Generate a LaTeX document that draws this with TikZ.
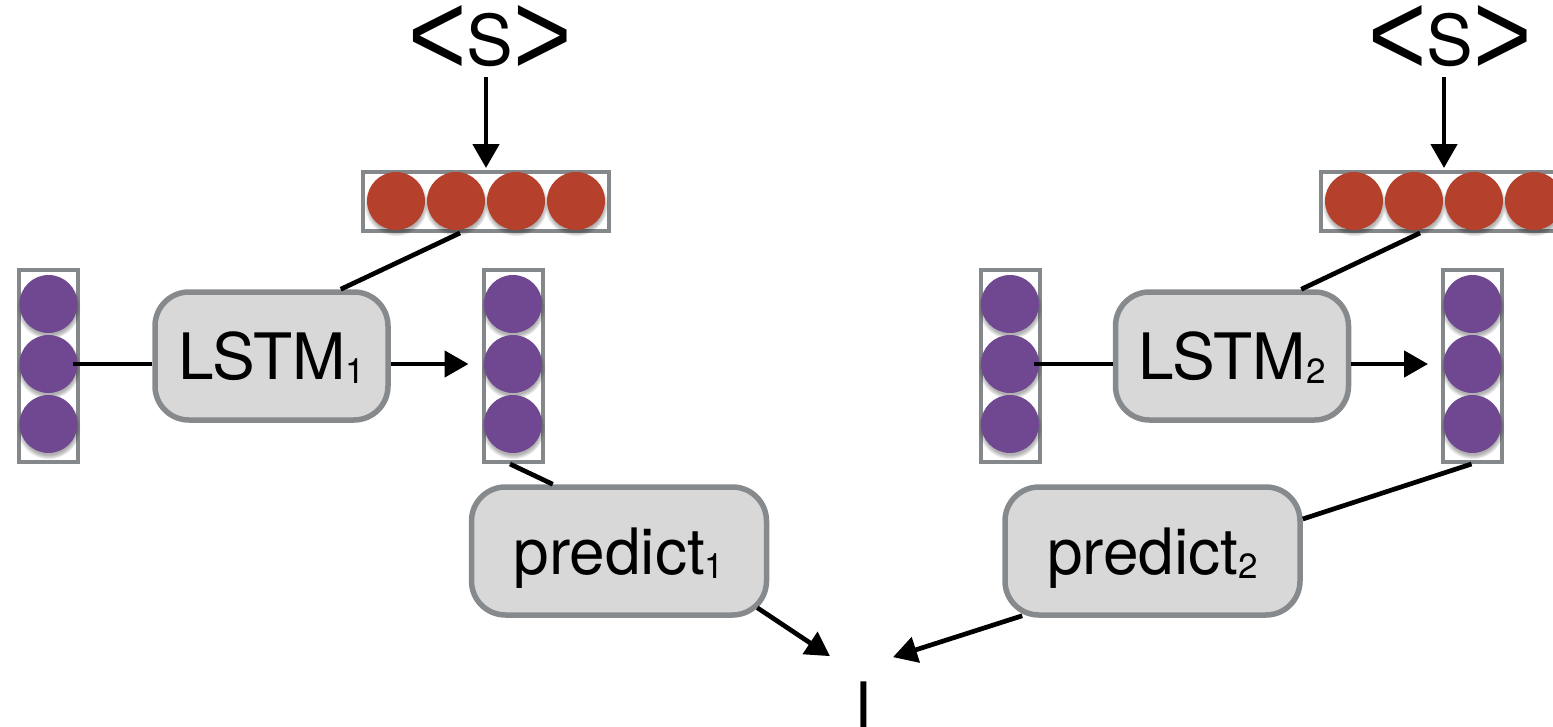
\documentclass[tikz,border=0pt]{standalone}
\usepackage{fontspec}
\setmainfont{TeX Gyre Heros}
\newfontfamily\arialfont{Liberation Sans}
\usetikzlibrary{arrows.meta,shadows}
\definecolor{cred}{RGB}{181,64,44}
\definecolor{cpurple}{RGB}{111,72,145}
\definecolor{bargray}{RGB}{133,136,139}
\definecolor{boxgray}{RGB}{135,138,141}
\definecolor{boxfill}{RGB}{216,216,216}
\newcommand\subn[1]{\raisebox{-4pt}{\fontsize{35}{35}\selectfont #1}}
\newcommand\bigfont{\fontsize{64}{64}\selectfont}
\newcommand\angfont{\arialfont\fontsize{100}{100}\selectfont}
\newcommand\stoken{\raisebox{-10pt}{\scalebox{1}[1.2]{\angfont<}}{\fontsize{70}{70}\selectfont S}\raisebox{-10pt}{\scalebox{1}[1.2]{\angfont>}}}
\begin{document}
\begin{tikzpicture}[x=1pt,y=-1pt,
  hbar/.style={draw=bargray,line width=4pt,fill=white,inner sep=0pt,minimum width=246pt,minimum height=59pt},
  vbar/.style={draw=bargray,line width=4pt,fill=white,inner sep=0pt,minimum width=59pt,minimum height=192pt},
  dot/.style={circle,inner sep=0pt,minimum size=58pt,circular drop shadow={shadow xshift=0pt,shadow yshift=-3pt,opacity=0.3,fill=black}},
  rdot/.style={dot,fill=cred},
  pdot/.style={dot,fill=cpurple},
  box/.style={draw=boxgray,line width=5.5pt,fill=boxfill,rounded corners=34pt,inner sep=0pt,
    minimum height=128pt,text height=46pt,text depth=0pt,font=\bigfont},
  lbox/.style={box,minimum width=233pt},
  pbox/.style={box,minimum width=295pt},
  conn/.style={line width=4.7pt},
  arr/.style={conn,-{Triangle[length=24pt,width=26pt]}},
  stext/.style={inner sep=0pt,anchor=base}
]
\useasboundingbox (0,0) rectangle (1553,726);

% ---------- left ----------
\node[stext] (s1) at (490,65) {\stoken};
\node[hbar] (rb1) at (486,201.5) {};
\foreach \i/\x in {1/396,2/456,3/516,4/576} \node[rdot] (r1\i) at (\x,201) {};
\node[vbar] (lc1) at (48.5,366) {};
\foreach \i/\y in {1/304,2/364,3/424} \node[pdot] (lc1\i) at (48.5,\y) {};
\node[vbar] (rc1) at (513,366) {};
\foreach \i/\y in {1/304,2/364,3/424} \node[pdot] (rc1\i) at (513,\y) {};
\node[lbox] (lstm1) at (271.5,356) {LSTM\subn{1}};
\node[pbox] (pred1) at (619,551) {predict\subn{1}};

% ---------- right ----------
\node[stext] (s2) at (1450,65) {\stoken};
\node[hbar] (rb2) at (1444,201.5) {};
\foreach \i/\x in {1/1354,2/1414,3/1474,4/1534} \node[rdot] (r2\i) at (\x,201) {};
\node[vbar] (lc2) at (1010,366) {};
\foreach \i/\y in {1/304,2/364,3/424} \node[pdot] (lc2\i) at (1010,\y) {};
\node[vbar] (rc2) at (1472.5,366) {};
\foreach \i/\y in {1/304,2/364,3/424} \node[pdot] (rc2\i) at (1472.5,\y) {};
\node[lbox] (lstm2) at (1232,356) {LSTM\subn{2}};
\node[pbox] (pred2) at (1152.5,551) {predict\subn{2}};

% ---------- output ----------
\node[stext,font=\bigfont] (out) at (863,728) {I};

% ---------- connectors ----------
\draw[arr,shorten <=12pt,shorten >=2pt] (rb1.north |- s1.base) -- (rb1.north);
\draw[conn] ([xshift=-26pt]rb1.south) -- ([xshift=-50pt]lstm1.north east);
\draw[conn] ([xshift=-5pt]lc12.east) -- (lstm1.west |- lc12);
\draw[arr,shorten >=13pt] (lstm1.east |- rc12) -- (rc1.west |- rc12);
\draw[conn] ([xshift=-3pt]rc1.south) -- ([xshift=84pt]pred1.north west);
\draw[arr] ([xshift=-12pt,yshift=10pt]pred1.south east) -- ([xshift=-33pt,yshift=25pt]out.north);

\draw[arr,shorten <=12pt,shorten >=2pt] (rb2.north |- s2.base) -- (rb2.north);
\draw[conn] ([xshift=-24pt]rb2.south) -- ([xshift=-50pt]lstm2.north east);
\draw[conn] ([xshift=-5pt]lc22.east) -- (lstm2.west |- lc22);
\draw[arr,shorten >=13pt] (lstm2.east |- rc22) -- (rc2.west |- rc22);
\draw[conn] ([xshift=-1pt]rc2.south) -- ([yshift=32pt]pred2.east);
\draw[arr] ([xshift=20pt,yshift=2pt]pred2.south west) -- ([xshift=30pt,yshift=24pt]out.north);
\end{tikzpicture}
\end{document}
